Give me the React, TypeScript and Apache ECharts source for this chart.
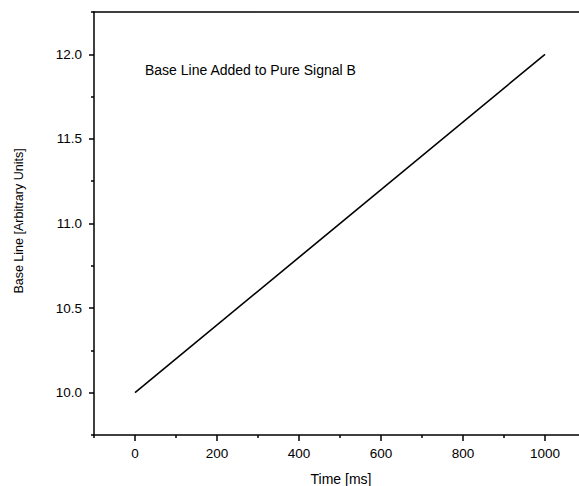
import React, { useEffect, useRef } from "react";
import * as echarts from "echarts";

const timeMs = [0, 1000];
const baseLine = [10.0, 12.0];
const xMajorTicks = [0, 200, 400, 600, 800, 1000];
const xMinorTicks = [-100, 100, 300, 500, 700, 900];
const yMajorTicks = [10.0, 10.5, 11.0, 11.5, 12.0];
const yMinorTicks = [9.75, 10.25, 10.75, 11.25, 11.75, 12.25];

const FONT = "'Liberation Sans', Arial, sans-serif";

export default function App() {
  const ref = useRef<HTMLDivElement>(null);
  useEffect(() => {
    document.body.style.margin = "0";
    const chart = echarts.init(ref.current!, null, { renderer: "svg" });
    const axisCommon = {
      type: "value" as const,
      splitLine: { show: false },
    };
    const xMin = -100;
    const xMax = 1083;
    chart.setOption({
      animation: false,
      backgroundColor: "#ffffff",
      grid: { left: 94, top: 12, right: 0, height: 423, containLabel: false },
      xAxis: [
        {
          ...axisCommon,
          position: "bottom",
          min: xMin,
          max: xMax,
          axisLine: { show: true, onZero: false, lineStyle: { color: "#000", width: 1.5 } },
          axisTick: { show: true, customValues: xMajorTicks, length: 6, inside: false, lineStyle: { color: "#000", width: 1.5 } },
          axisLabel: {
            customValues: xMajorTicks,
            margin: 11,
            color: "#000",
            fontSize: 13.5,
            fontFamily: FONT,
            formatter: (v: number) => String(v),
          },
        },
        {
          ...axisCommon,
          position: "bottom",
          min: xMin,
          max: xMax,
          axisLine: { show: false, onZero: false },
          axisTick: { show: true, customValues: xMinorTicks, length: 3, lineStyle: { color: "#000", width: 1.5 } },
          axisLabel: { show: false },
        },
        {
          ...axisCommon,
          position: "top",
          min: xMin,
          max: xMax,
          axisLine: { show: true, onZero: false, lineStyle: { color: "#000", width: 1.5 } },
          axisTick: { show: false },
          axisLabel: { show: false },
        },
      ],
      yAxis: [
        {
          ...axisCommon,
          position: "left",
          min: 9.75,
          max: 12.25,
          axisLine: { show: true, onZero: false, lineStyle: { color: "#000", width: 1.5 } },
          axisTick: { show: true, customValues: yMajorTicks, length: 5, lineStyle: { color: "#000", width: 1.5 } },
          axisLabel: {
            customValues: yMajorTicks,
            margin: 12,
            color: "#000",
            fontSize: 13.5,
            fontFamily: FONT,
            formatter: (v: number) => v.toFixed(1),
          },
        },
        {
          ...axisCommon,
          position: "left",
          min: 9.75,
          max: 12.25,
          axisLine: { show: false, onZero: false },
          axisTick: { show: true, customValues: yMinorTicks, length: 3, lineStyle: { color: "#000", width: 1.5 } },
          axisLabel: { show: false },
        },
      ],
      series: [
        {
          type: "line",
          data: timeMs.map((t, i) => [t, baseLine[i]]),
          showSymbol: false,
          lineStyle: { color: "#000", width: 1.6 },
          xAxisIndex: 0,
          yAxisIndex: 0,
        },
      ],
      graphic: [
        {
          type: "text",
          left: 145,
          top: 63,
          style: { text: "Base Line Added to Pure Signal B", fill: "#000", fontSize: 14, fontFamily: FONT },
        },
        {
          type: "text",
          x: 341,
          y: 479,
          style: { text: "Time [ms]", fill: "#000", fontSize: 14, fontFamily: FONT, align: "center", verticalAlign: "middle" },
        },
        {
          type: "text",
          x: 19,
          y: 221,
          rotation: Math.PI / 2,
          style: { text: "Base Line [Arbitrary Units]", fill: "#000", fontSize: 12.5, fontFamily: FONT, align: "center", verticalAlign: "middle" },
        },
      ],
    });
    return () => chart.dispose();
  }, []);
  return <div ref={ref} style={{ width: 579, height: 486 }} />;
}
